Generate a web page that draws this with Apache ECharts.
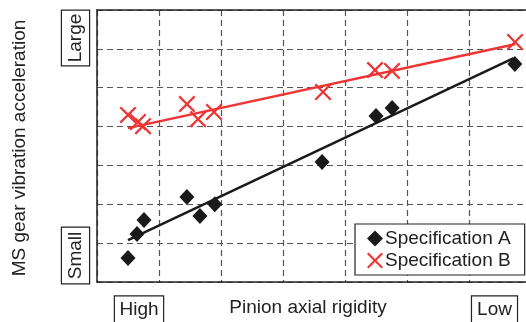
<!DOCTYPE html>
<html>
<head>
<meta charset="utf-8">
<script src="https://cdn.jsdelivr.net/npm/echarts@6/dist/echarts.min.js"></script>
<style>html,body{margin:0;padding:0;background:#fff;}#c{width:526px;height:322px;}</style>
</head>
<body>
<div id="c"></div>
<script>
// Data (axis units: 0..7 on both axes, qualitative scale)
var specAX = [0.5, 0.645, 0.758, 1.45, 1.66, 1.90, 3.63, 4.5, 4.76, 6.74];
var specAY = [0.62, 1.235, 1.595, 2.19, 1.70, 2.0, 3.09, 4.27, 4.48, 5.61];
var specBX = [0.5, 0.66, 0.742, 1.45, 1.63, 1.887, 3.645, 4.484, 4.758, 6.742];
var specBY = [4.3, 4.117, 4.01, 4.58, 4.19, 4.375, 4.89, 5.455, 5.43, 6.176];
var trendAX = [0.5, 6.72];
var trendAY = [1.08, 5.76];
var trendBX = [0.5, 6.74];
var trendBY = [3.96, 6.12];
var seriesNames = ['Specification A', 'Specification B'];
var yTitle = 'MS gear vibration acceleration';
var xTitle = 'Pinion axial rigidity';
var yEnds = ['Small', 'Large'];
var xEnds = ['High', 'Low'];

function pairs(xs, ys){ return xs.map(function(x,i){ return [x, ys[i]]; }); }

var RED = '#ee3434';
var BLACK = '#1a1a1a';
var FONT = 'Liberation Sans';
var FS = 19;
var xPath = 'path://M0,1.5 L1.5,0 L8,6.5 L14.5,0 L16,1.5 L9.5,8 L16,14.5 L14.5,16 L8,9.5 L1.5,16 L0,14.5 L6.5,8 Z';

var chart = echarts.init(document.getElementById('c'), null, {renderer:'canvas'});

function boxText(text, x, y, rot, pad){
  return {
    type:'text', x:x, y:y, rotation: rot ? Math.PI/2 : 0, z:10,
    style:{
      text:text, fill:'#222', font:FS + 'px "' + FONT + '"', lineHeight:19,
      align:'center', verticalAlign:'middle',
      backgroundColor:'#fff', borderColor:'#222', borderWidth:1.2,
      padding: pad
    }
  };
}

chart.setOption({
  animation:false,
  backgroundColor:'#fff',
  grid:{left:97, top:10, width:434, height:272, outerBoundsMode:'none', show:false},
  xAxis:[{type:'value', min:0, max:7, interval:1, position:'bottom',
    axisLine:{show:true, onZero:false, lineStyle:{color:'#222', width:1.5}},
    axisTick:{show:false}, axisLabel:{show:false},
    splitLine:{show:true, lineStyle:{color:'#555', width:1.2, type:[6,4]}}},
    {type:'value', min:0, max:7, interval:1, position:'top',
    axisLine:{show:true, onZero:false, lineStyle:{color:'#222', width:1.5}},
    axisTick:{show:false}, axisLabel:{show:false}, splitLine:{show:false}}],
  yAxis:{type:'value', min:0, max:7, interval:1,
    axisLine:{show:true, onZero:false, lineStyle:{color:'#222', width:1.5}},
    axisTick:{show:false}, axisLabel:{show:false},
    splitLine:{show:true, lineStyle:{color:'#555', width:1.2, type:[6,4]}}},
  legend:{
    orient:'vertical', left:355, top:224,
    padding:[5,14,5,12], itemGap:3, itemWidth:16, itemHeight:16,
    backgroundColor:'#fff', borderColor:'#222', borderWidth:1.2,
    textStyle:{fontFamily:FONT, fontSize:FS, color:'#222', padding:[0,0,0,-3]},
    data:[{name:seriesNames[0], icon:'diamond'},{name:seriesNames[1], icon:xPath}]
  },
  graphic:[
    {type:'text', x:20, y:148, rotation:Math.PI/2, style:{text:yTitle, fill:'#222', font:FS + 'px "' + FONT + '"', align:'center', verticalAlign:'middle'}},
    {type:'text', x:308, y:308, style:{text:xTitle, fill:'#222', font:FS + 'px "' + FONT + '"', align:'center', verticalAlign:'middle'}},
    boxText(yEnds[1], 75.5, 38, true, [4,3,4,3]),
    boxText(yEnds[0], 75.5, 255.5, true, [4,4,4,4]),
    boxText(xEnds[0], 139, 310, false, [4,4.5,4,4.5]),
    boxText(xEnds[1], 494.5, 310, false, [4,5,4,5])
  ],
  series:[
    {type:'line', data:pairs(trendAX, trendAY), showSymbol:false, symbol:'none', lineStyle:{color:BLACK, width:2.5}, z:2, silent:true},
    {type:'line', data:pairs(trendBX, trendBY), showSymbol:false, symbol:'none', lineStyle:{color:RED, width:2.5}, z:2, silent:true},
    {name:seriesNames[0], type:'scatter', data:pairs(specAX, specAY), symbol:'diamond', symbolSize:[15,16], itemStyle:{color:BLACK, opacity:1}, z:3},
    {name:seriesNames[1], type:'scatter', data:pairs(specBX, specBY), symbol:xPath, symbolSize:17, itemStyle:{color:RED, opacity:1}, z:3}
  ]
});
</script>
</body>
</html>
